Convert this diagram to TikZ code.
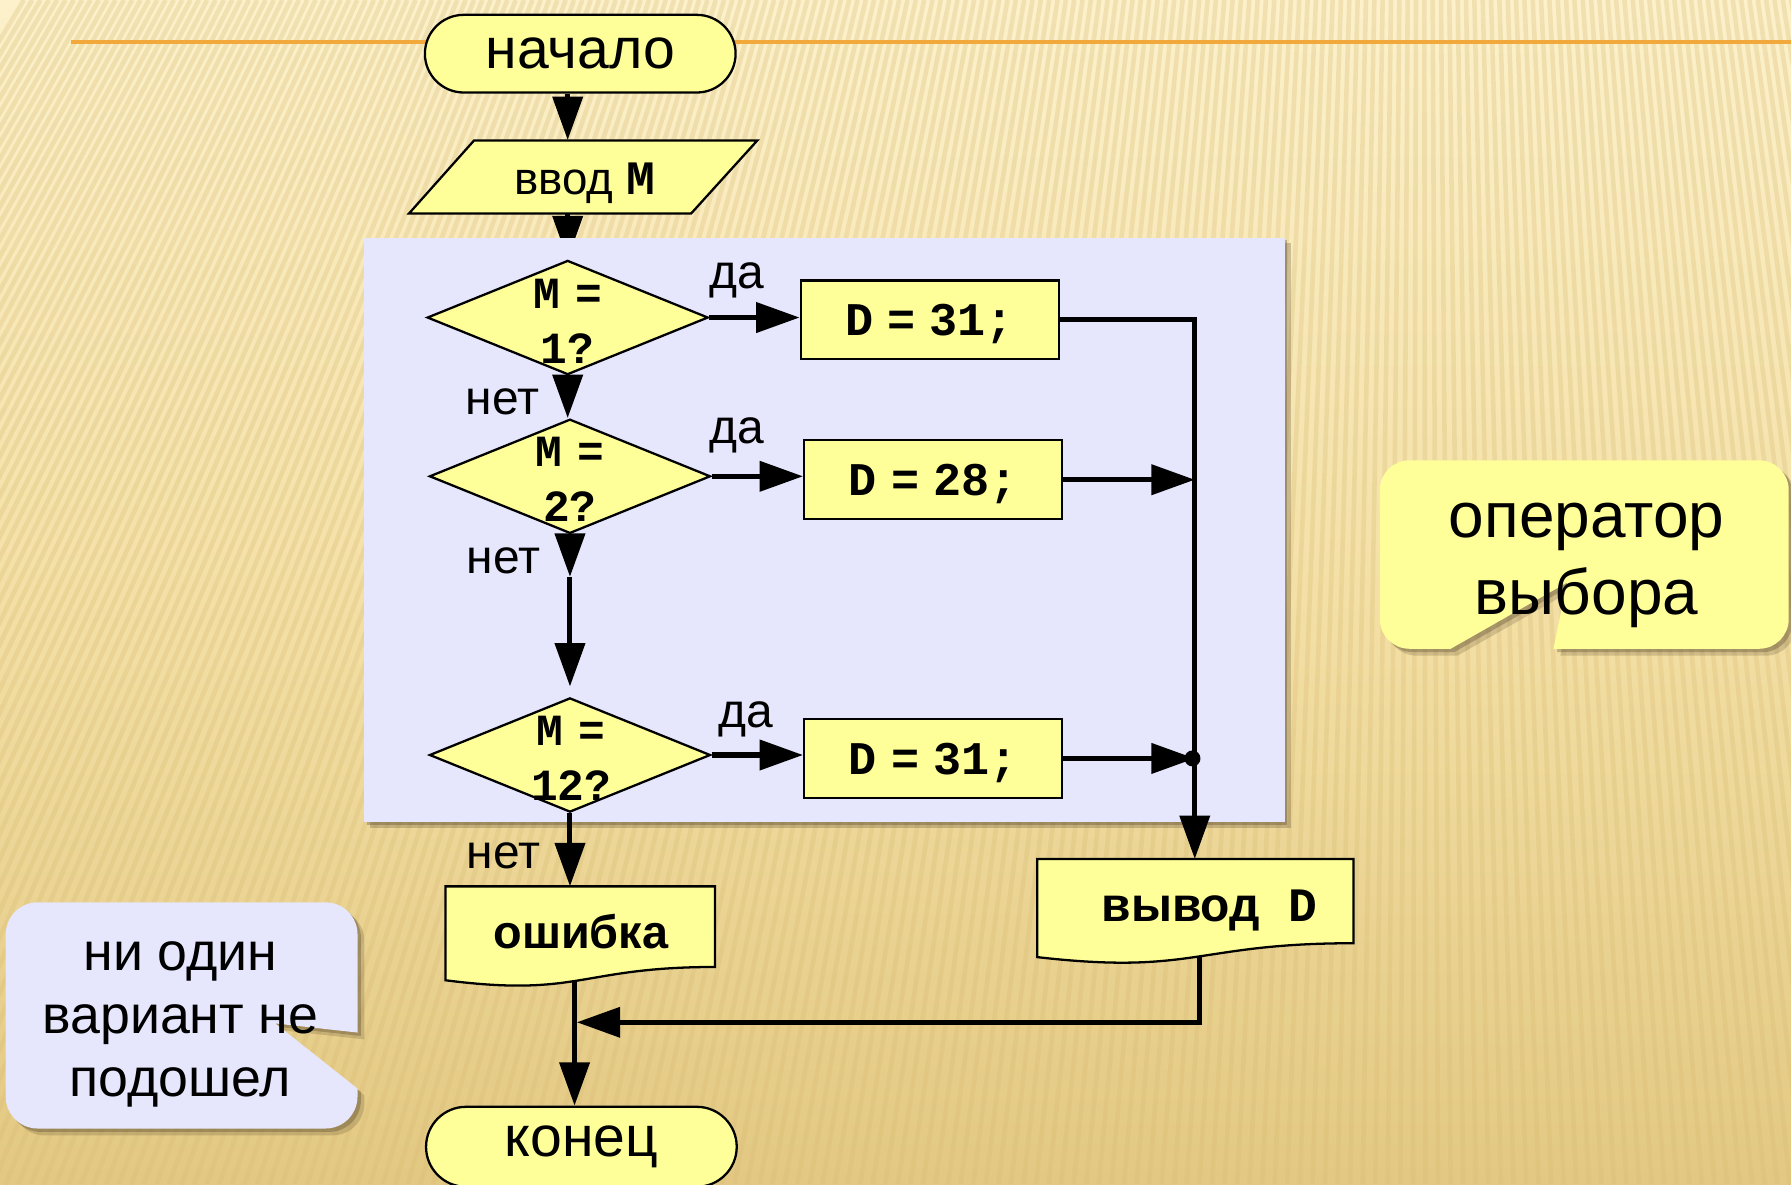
\documentclass[tikz,border=0pt]{standalone}
\usepackage{fontspec}
\setmainfont{Liberation Sans}
\newfontfamily\cour{Liberation Mono}
\usetikzlibrary{shapes.geometric,shapes.misc,arrows.meta}
\definecolor{bgtop}{HTML}{FCF1CB}
\definecolor{bgmid}{HTML}{F4E0A6}
\definecolor{bgbot}{HTML}{E2C882}
\definecolor{stripec}{HTML}{D8BC74}
\definecolor{boxy}{HTML}{FFFF99}
\definecolor{panelc}{HTML}{E6E6FC}
\definecolor{orangec}{HTML}{F2A83A}
\definecolor{shadowc}{HTML}{4A3A22}
\newcommand\mydoc[4]{(#1,#2) -- ({#1+#3},#2) -- ({#1+#3},{#2+0.802*#4}) .. controls ({#1+0.5*#3},{#2+0.802*#4}) and ({#1+0.5*#3},{#2+1.107*#4}) .. (#1,{#2+0.934*#4}) -- cycle}
\newcommand\callA{(33,790) -- (285,790) .. controls (300.5,790) and (313,802.5) .. (313,818) -- (313,904) -- (241,896) -- (313,953) -- (313,960) .. controls (313,975.5) and (300.5,988) .. (285,988) -- (33,988) .. controls (17.5,988) and (5,975.5) .. (5,960) -- (5,818) .. controls (5,802.5) and (17.5,790) .. (33,790) -- cycle}
\newcommand\callB{(1234,403) -- (1540,403) .. controls (1554.4,403) and (1566,414.6) .. (1566,429) -- (1566,542) .. controls (1566,556.4) and (1554.4,568) .. (1540,568) -- (1360,568) -- (1372,510) -- (1270,568) -- (1234,568) .. controls (1219.6,568) and (1208,556.4) .. (1208,542) -- (1208,429) .. controls (1208,414.6) and (1219.6,403) .. (1234,403) -- cycle}
\pgfdeclarelayer{back}
\pgfdeclarelayer{mid}
\pgfsetlayers{back,mid,main}
\begin{document}
\begin{tikzpicture}[x=0.5pt,y=-0.5pt,
  arr/.style={line width=2.2pt,-{Triangle[length=19pt,width=13pt]}},
  term/.style={rounded rectangle,draw,fill=boxy,line width=1pt,minimum width=136pt,minimum height=34pt,inner sep=0pt,font=\fontsize{25}{30}\selectfont},
  proc/.style={rectangle,draw,fill=boxy,line width=1pt,minimum width=113pt,minimum height=34.5pt,inner sep=0pt,text depth=0pt,font=\cour\bfseries\fontsize{20.5}{24}\selectfont},
  dec/.style={diamond,draw,fill=boxy,line width=1pt,minimum width=123pt,minimum height=50pt,inner sep=0pt},
  dectext/.style={align=center,inner sep=0pt,font=\cour\bfseries\fontsize{19.5}{24}\selectfont},
  lbl/.style={inner sep=0pt,anchor=base,font=\fontsize{21}{24}\selectfont},
  docsty/.style={draw,fill=boxy,line width=1pt},
  callt/.style={inner sep=0pt,anchor=base}
]
\useasboundingbox (0,0) rectangle (1568,1037);
\begin{pgfonlayer}{back}
\fill[top color=bgtop,bottom color=bgbot,middle color=bgmid] (0,0) rectangle (1568,1037);
\begin{scope}
\clip (0,0) rectangle (1568,1037);
\foreach \xb in {-600,-589,...,2000}{
  \draw[stripec,line width=2pt,opacity=0.3] (\xb,1037) -- ({1245+(\xb-1245)*0.6635},0);
}
\end{scope}
\draw[orangec,line width=1.6pt] (62,37) -- (1568,37);
\end{pgfonlayer}

% panel
\begin{pgfonlayer}{mid}
\fill[shadowc,opacity=0.25] (324,213) rectangle (1130,725);
\fill[shadowc,opacity=0.3] (321,210) rectangle (1127,722);
\node[fill=panelc,inner sep=0pt,minimum width=403pt,minimum height=256pt] (panel) at (722,464) {};
\end{pgfonlayer}

% start / input
\node[term] (start) at (508,47) {начало};
\draw[docsty] (415,123) -- (663,123) -- (605,187) -- (358,187) -- cycle;
\node[inner sep=0pt,minimum width=100pt,minimum height=32pt] (vvod) at (510,155) {};
\node[lbl,font=\fontsize{20}{24}\selectfont] (vvodt) at (512,170) {ввод {\cour\bfseries\fontsize{21}{24}\selectfont M}};

% decisions
\node[dec] (d1) at (497,278) {};
\node[dectext] (d1t) at (497,281) {M\hspace{0.35em}=\\1?};
\node[dec] (d2) at (499,417) {};
\node[dectext] (d2t) at (499,420) {M\hspace{0.35em}=\\2?};
\node[dec] (d3) at (499,661) {};
\node[dectext] (d3t) at (500,664) {M\hspace{0.35em}=\\12?};

% processes
\node[proc] (b1) at (814,280) {D\hspace{0.3em}=\hspace{0.3em}31;};
\node[proc] (b2) at (817,420) {D\hspace{0.3em}=\hspace{0.3em}28;};
\node[proc] (b3) at (817,664) {D\hspace{0.3em}=\hspace{0.3em}31;};

% labels
\node[lbl] (da1) at (645,253) {да};
\node[lbl] (da2) at (645,388) {да};
\node[lbl] (da3) at (653,637) {да};
\node[lbl] (net1) at (440,363) {нет};
\node[lbl] (net2) at (441,502) {нет};
\node[lbl] (net3) at (441,760) {нет};

% coordinates
\coordinate (mx) at (1046,0);
\coordinate (outtop) at (1046,752);
\coordinate (n2a) at (499,505);
\coordinate (n2b) at (499,601);
\coordinate (errtop) at (499,776);
\coordinate (errbot) at (503,858);
\coordinate (outbot) at (1050,837);
\coordinate (joinpt) at (505,895);

% documents
\draw[docsty] \mydoc{390}{776}{236}{88};
\node[callt,font=\bfseries\fontsize{20.5}{24}\selectfont] (err) at (508.5,830) {ошибка};
\draw[docsty] \mydoc{908}{752}{277}{92};
\node[callt,font=\bfseries\fontsize{21}{24}\selectfont] (out) at (1059,807) {вывод\hspace{0.6em}{\cour D}};

% end
\node[term,minimum height=35pt] (end) at (509,1004) {конец};

% connectors
\draw[arr] (start.south -| d1.north) -- (vvod.north -| d1.north);
\begin{pgfonlayer}{back}
\draw[arr] (vvod.south -| d1.north) -- (d1.north);
\end{pgfonlayer}
\draw[arr] (d1.east) -- (d1.east -| b1.west);
\draw[arr] (d2.east) -- (d2.east -| b2.west);
\draw[arr] (d3.east) -- (d3.east -| b3.west);
\draw[arr] (d1.south) -- (d1.south |- d2.north);
\draw[arr] (d2.south) -- (n2a);
\draw[arr] (n2a) -- (n2b);
\draw[arr] (d3.south) -- (errtop);
\draw[arr] (b1.east) -- (b1.east -| mx) -- (outtop);
\draw[arr] (b2.east) -- (b2.east -| mx);
\draw[arr] (b3.east) -- (b3.east -| mx);
\node[circle,fill=black,inner sep=0pt,minimum size=7pt] (dot) at ([xshift=-1pt]b3.east -| mx) {};
\draw[arr] (outbot) |- (joinpt);
\draw[arr] (errbot) -- (errbot |- end.north);

% callouts
\fill[shadowc,opacity=0.2,shift={(6,6)}] \callA;
\fill[shadowc,opacity=0.3,shift={(3,3)}] \callA;
\fill[panelc] \callA;
\node[callt,font=\fontsize{23.5}{28}\selectfont] (c1a) at (158,850) {ни один};
\node[callt,font=\fontsize{23.5}{28}\selectfont] (c1b) at (158,905) {вариант не};
\node[callt,font=\fontsize{23.5}{28}\selectfont] (c1c) at (158,960) {подошел};

\fill[shadowc,opacity=0.2,shift={(6,6)}] \callB;
\fill[shadowc,opacity=0.3,shift={(3,3)}] \callB;
\fill[boxy] \callB;
\node[callt,font=\fontsize{28}{33}\selectfont] (c2a) at (1389,471) {оператор};
\node[callt,font=\fontsize{28}{33}\selectfont] (c2b) at (1389,538) {выбора};
\end{tikzpicture}
\end{document}
